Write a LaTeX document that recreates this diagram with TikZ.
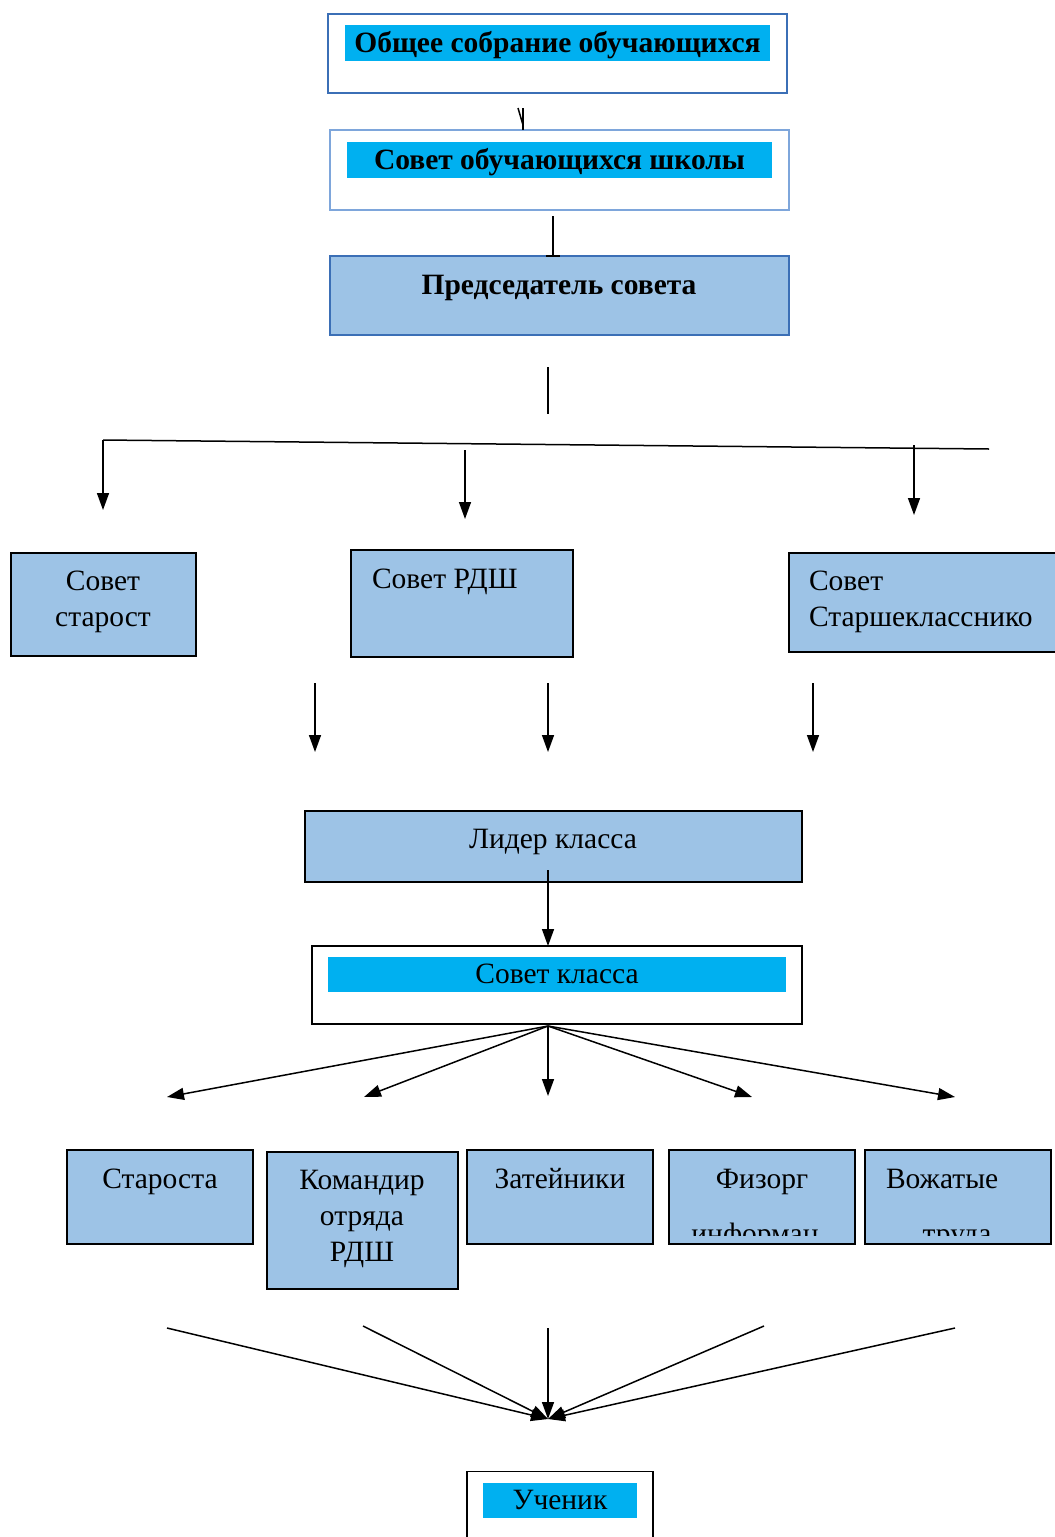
\documentclass[tikz,border=0pt]{standalone}
\usepackage{fontspec}
\setmainfont{Liberation Serif}
\usetikzlibrary{arrows.meta}

\definecolor{boxblue}{HTML}{9DC3E6}
\definecolor{barcyan}{HTML}{00B0F0}
\definecolor{frameblue}{HTML}{3B6FB6}
\definecolor{framelight}{HTML}{7EA6DB}

\begin{document}
\begin{tikzpicture}[
  x=1pt,y=-1pt,
  font=\fontsize{29.5}{36}\selectfont,
  every node/.style={inner sep=0pt,outer sep=0pt},
  frame/.style={draw=frameblue,line width=2pt,fill=white},
  bar/.style={fill=barcyan,text height=22pt,text depth=4pt},
  unit/.style={draw=black,line width=1.5pt,fill=boxblue},
  heading/.style={font=\fontsize{29.5}{36}\selectfont\bfseries},
  >={Triangle[length=17pt,width=12pt]},
  link/.style={->,line width=1.5pt},
  plain/.style={line width=1.5pt}]

  \useasboundingbox (0,0) rectangle (1055,1537);

  % Top of the structure
  \node[frame,minimum width=459,minimum height=79] (sobranie) at (557.5,53.5) {};
  \node[bar,heading,minimum width=425,minimum height=36] (sobranie-t) at (557.5,43) {Общее собрание обучающихся};

  \node[frame,draw=framelight,minimum width=459,minimum height=80] (sovet) at (559.5,170) {};
  \node[bar,heading,minimum width=425,minimum height=36] (sovet-t) at (559.5,160) {Совет обучающихся школы};

  \node[frame,fill=boxblue,minimum width=459,minimum height=79] (predsedatel) at (559.5,295.5) {};
  \node[heading] (predsedatel-t) at (559,288) {Председатель совета};

  % Councils
  \node[unit,minimum width=185,minimum height=103] (starost) at (103.5,604.5) {};
  \node[align=center] (starost-t) at (103,602) {Совет\\старост};
  \node[unit,minimum width=222,minimum height=107] (rdsh) at (462,603.5) {};
  \node[anchor=west] (rdsh-t) at (372,582) {Совет РДШ};
  \node[unit,minimum width=271,minimum height=99] (starsh) at (924.5,602.5) {};
  \node[anchor=west,align=left] (starsh-t) at (809,602) {Совет\\Старшекласснико};

  \node[unit,minimum width=497,minimum height=71] (lider) at (553.5,846.5) {};
  \node (lider-t) at (553,842) {Лидер класса};

  \node[frame,draw=black,line width=1.5pt,minimum width=490,minimum height=78] (klass) at (557,985) {};
  \node[bar,minimum width=458,minimum height=35] (klass-t) at (557,974.5) {Совет класса};

  % Class roles
  \node[unit,minimum width=186,minimum height=94] (starosta) at (160,1197) {};
  \node (starosta-t) at (160,1182) {Староста};
  \node[unit,minimum width=191,minimum height=137] (komandir) at (362.5,1220.5) {};
  \node[align=center] (komandir-t) at (362,1219) {Командир\\отряда\\РДШ};
  \node[unit,minimum width=186,minimum height=94] (zateyniki) at (560,1197) {};
  \node (zateyniki-t) at (560,1179) {Затейники};
  \node[unit,minimum width=186,minimum height=94] (fizorg) at (762,1197) {};
  \node (fizorg-t) at (762,1182) {Физорг};
  \node[unit,minimum width=186,minimum height=94] (vozhatye) at (958,1197) {};
  \node[anchor=west] (vozhatye-t) at (886,1179) {Вожатые};
  \begin{scope}
    \clip (669,1150) rectangle (1051,1235);
    \node[anchor=base] (fizorg-x) at (755,1243) {информац};
    \node[anchor=base] (vozhatye-x) at (957,1243) {труда};
  \end{scope}

  \node[frame,draw=black,line width=1.5pt,minimum width=186,minimum height=75] (uchenik) at (560,1509) {};
  \node[bar,minimum width=154,minimum height=35] (uchenik-t) at (560,1500.5) {Ученик};

  % Connectors
  \coordinate (tick1) at (523,108);
  \draw[plain] (tick1) -- (tick1 |- sovet.north);
  \draw[plain] ([xshift=-5]tick1) -- ([yshift=-17]tick1);
  \coordinate (tick2) at (553,216);
  \draw[plain] (tick2) -- (tick2 |- predsedatel.north);
  \draw[plain] ([xshift=-7]tick2 |- predsedatel.north) -- ([xshift=7]tick2 |- predsedatel.north);

  \coordinate (stem-top) at (548,367);
  \coordinate (stem-bot) at (548,414);
  \draw[plain] (stem-top) -- (stem-bot);

  \coordinate (bar-l) at (103,440);
  \coordinate (bar-r) at (989,449);
  \coordinate (bar-m) at (465,450);
  \coordinate (bar-s) at (914,445);
  \draw[plain] (bar-l) -- (bar-r);
  \draw[link] (bar-l) -- (103,510);
  \draw[link] (bar-m) -- (465,519);
  \draw[link] (bar-s) -- (914,515);

  \foreach \x in {315,548,813}
    \draw[link] (\x,683) -- (\x,752);

  \coordinate (lider-out) at (548,870);
  \draw[link] (lider-out) -- (lider-out |- klass.north);

  \coordinate (fan-top) at (548,1026);
  \foreach \x/\y in {167/1097,364/1097,548/1096,752/1097,955/1097}
    \draw[link] (fan-top) -- (\x,\y);

  \coordinate (fan-low) at (548,1419);
  \foreach \x/\y in {167/1328,363/1326,548/1328,764/1326,955/1328}
    \draw[link] (\x,\y) -- (fan-low);
\end{tikzpicture}
\end{document}
